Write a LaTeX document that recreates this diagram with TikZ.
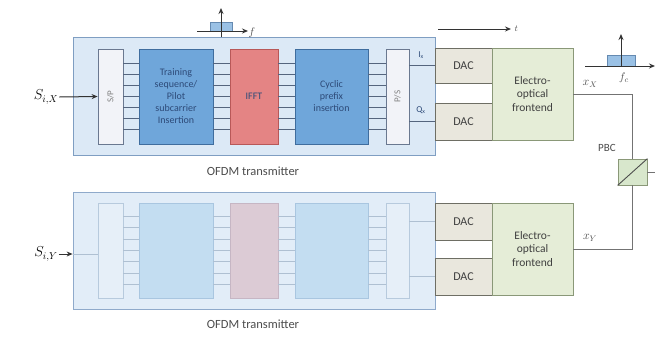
\documentclass[tikz,border=0pt]{standalone}
\usepackage{fontspec}
\setmainfont{Carlito}
\usetikzlibrary{arrows.meta}
\definecolor{outerfill}{HTML}{DCE9F6}
\definecolor{outerdraw}{HTML}{7F9EC2}
\definecolor{blufill}{HTML}{6FA6DA}
\definecolor{bludraw}{HTML}{3F6D9E}
\definecolor{redfill}{HTML}{E48484}
\definecolor{reddraw}{HTML}{B85858}
\definecolor{spfill}{HTML}{F2F3F8}
\definecolor{spdraw}{HTML}{6A7890}
\definecolor{dacfill}{HTML}{E9E7DD}
\definecolor{dacdraw}{HTML}{6E6E64}
\definecolor{fefill}{HTML}{E5EDD7}
\definecolor{fedraw}{HTML}{8A9878}
\definecolor{pbcfill}{HTML}{D8E7CC}
\definecolor{txtblue}{HTML}{2D4A78}
\definecolor{linec}{HTML}{55657E}
\definecolor{fouterfill}{HTML}{E2EDF8}
\definecolor{fouterdraw}{HTML}{8FAACB}
\definecolor{fblufill}{HTML}{C3DDF1}
\definecolor{fbludraw}{HTML}{A9C6E0}
\definecolor{fredfill}{HTML}{DCCBD5}
\definecolor{freddraw}{HTML}{C6B6C4}
\definecolor{fspfill}{HTML}{E6EFF8}
\definecolor{fspdraw}{HTML}{B7CADD}
\definecolor{flinec}{HTML}{AFC0D2}
\tikzset{
  box/.style={draw, line width=0.8pt, inner sep=1pt, align=center},
  outer/.style={box, fill=outerfill, draw=outerdraw},
  blk/.style={box, fill=blufill, draw=bludraw, text=txtblue, font=\fontsize{10}{12}\selectfont},
  redblk/.style={box, fill=redfill, draw=reddraw, text=txtblue, font=\fontsize{10}{12}\selectfont},
  spblk/.style={box, fill=spfill, draw=spdraw, text=gray, font=\fontsize{9}{10}\selectfont},
  fouter/.style={box, fill=fouterfill, draw=fouterdraw},
  fblk/.style={box, fill=fblufill, draw=fbludraw},
  fredblk/.style={box, fill=fredfill, draw=freddraw},
  fspblk/.style={box, fill=fspfill, draw=fspdraw},
  dac/.style={box, fill=dacfill, draw=dacdraw, text=black!75, font=\fontsize{12}{13}\selectfont},
  fe/.style={box, fill=fefill, draw=fedraw, text=black!75, font=\fontsize{11.5}{13.5}\selectfont},
  bus/.style={draw=linec, line width=0.9pt},
  fbus/.style={draw=flinec, line width=0.9pt},
  wire/.style={draw=black!55, line width=0.9pt},
  lbl/.style={text=black!70, font=\fontsize{12.5}{14}\selectfont},
  arr/.style={-{Stealth[length=6pt,width=5pt]}, line width=1pt, draw=black!80, fill=black!80}
}
\begin{document}
\begin{tikzpicture}[x=1pt,y=-1pt]
\useasboundingbox (0,0) rectangle (655,340);
% ---------- top transmitter ----------
\node[outer, minimum width=362pt, minimum height=118pt] (outA) at (254,96) {};
\node[spblk, minimum width=25pt, minimum height=95pt] (spA) at (110.5,96.5) {\rotatebox{90}{S/P}};
\node[blk, minimum width=74pt, minimum height=95pt] (trA) at (176,96.5) {Training\\sequence/\\Pilot\\subcarrier\\Insertion};
\node[redblk, minimum width=48pt, minimum height=95pt] (ifA) at (254,96.5) {IFFT};
\node[blk, minimum width=73pt, minimum height=95pt] (cpA) at (331.5,96.5) {Cyclic\\prefix\\insertion};
\node[spblk, minimum width=23pt, minimum height=95pt] (psA) at (397.5,96.5) {\rotatebox{90}{P/S}};
\foreach \d in {-33,-22,-11,0,11,22,33}{
  \draw[bus] ([yshift=\d pt]spA.east) -- ([yshift=\d pt]trA.west);
  \draw[bus] ([yshift=\d pt]trA.east) -- ([yshift=\d pt]ifA.west);
  \draw[bus] ([yshift=\d pt]ifA.east) -- ([yshift=\d pt]cpA.west);
  \draw[bus] ([yshift=\d pt]cpA.east) -- ([yshift=\d pt]psA.west);
}
\node[dac, minimum width=57pt, minimum height=35pt] (dacA1) at (463.5,65.5) {DAC};
\node[dac, minimum width=57pt, minimum height=37pt] (dacA2) at (463.5,121.5) {DAC};
\node[fe, minimum width=81pt, minimum height=92pt] (feA) at (532.5,94) {Electro-\\optical\\frontend};
\draw[bus] (psA.east |- dacA1.west) -- (dacA1.west);
\draw[bus] (psA.east |- dacA2.west) -- (dacA2.west);
\node[text=txtblue, font=\fontsize{9}{10}\selectfont] (ixA) at (421,55) {I\textsubscript{x}};
\node[text=txtblue, font=\fontsize{9}{10}\selectfont] (qxA) at (421,110) {Q\textsubscript{x}};
\node[font=\fontsize{14}{16}\selectfont, inner sep=1pt] (sixA) at (46,97) {$S_{i,X}$};
\draw[arr] (sixA.east) -- (spA.west);
\node[lbl] (tA) at (253,171) {OFDM transmitter};
% ---------- bottom transmitter ----------
\node[fouter, minimum width=362pt, minimum height=117pt] (outB) at (254,250.5) {};
\node[fspblk, minimum width=25pt, minimum height=95pt] (spB) at (110.5,250.5) {};
\node[fblk, minimum width=74pt, minimum height=95pt] (trB) at (176,250.5) {};
\node[fredblk, minimum width=48pt, minimum height=95pt] (ifB) at (254,250.5) {};
\node[fblk, minimum width=73pt, minimum height=95pt] (cpB) at (331.5,250.5) {};
\node[fspblk, minimum width=23pt, minimum height=95pt] (psB) at (397.5,250.5) {};
\foreach \d in {-34,-23,-11,0,11,23,34}{
  \draw[fbus] ([yshift=\d pt]spB.east) -- ([yshift=\d pt]trB.west);
  \draw[fbus] ([yshift=\d pt]trB.east) -- ([yshift=\d pt]ifB.west);
  \draw[fbus] ([yshift=\d pt]ifB.east) -- ([yshift=\d pt]cpB.west);
  \draw[fbus] ([yshift=\d pt]cpB.east) -- ([yshift=\d pt]psB.west);
}
\node[dac, minimum width=57pt, minimum height=37pt] (dacB1) at (463.5,221.5) {DAC};
\node[dac, minimum width=57pt, minimum height=37pt] (dacB2) at (463.5,276.5) {DAC};
\node[fe, minimum width=81pt, minimum height=92pt] (feB) at (532.5,249) {Electro-\\optical\\frontend};
\draw[fbus] (psB.east |- dacB1.west) -- (dacB1.west);
\draw[fbus] (psB.east |- dacB2.west) -- (dacB2.west);
\node[font=\fontsize{14}{16}\selectfont, inner sep=1pt] (sixB) at (46,254) {$S_{i,Y}$};
\draw[arr] (sixB.east) -- (outB.west |- sixB.east);
\draw[fbus, line width=0.6pt] (outB.west |- sixB.east) -- (spB.west |- sixB.east);
\node[lbl] (tB) at (253,324) {OFDM transmitter};
% ---------- PBC ----------
\node[box, fill=pbcfill, draw=fedraw, minimum width=29pt, minimum height=26pt] (pbc) at (632.5,172) {};
\draw[black!70, line width=0.9pt] (pbc.south west) -- (pbc.north east);
\node[lbl, font=\fontsize{11}{12}\selectfont] (pbcl) at (607,148) {PBC};
\draw[wire] (feA.east) -- (pbc.north |- feA.east) -- (pbc.north);
\draw[wire] (feB.east) -- (pbc.south |- feB.east) -- (pbc.south);
\coordinate (outp) at (655,172);
\draw[wire] (pbc.east) -- (outp);
\node[lbl, font=\fontsize{12}{12}\selectfont] (xX) at (590,84) {$x_X$};
\node[lbl, font=\fontsize{12}{12}\selectfont] (xY) at (590,238) {$x_Y$};
% ---------- spectra and time axis ----------
\coordinate (ta0) at (438,29);
\coordinate (ta1) at (511,29);
\draw[arr] (ta0) -- (ta1);
\node[lbl, font=\fontsize{9}{9}\selectfont, anchor=west] (tl) at (ta1) {$t$};
% left spectrum
\coordinate (la0) at (197,31);
\coordinate (la1) at (248,31);
\coordinate (lu0) at (221,37);
\coordinate (lu1) at (221,8);
\draw[fill=blufill!70, draw=bludraw!80, line width=0.6pt] (210,22) rectangle (232,31);
\draw[arr] (la0) -- (la1);
\draw[arr] (lu0) -- (lu1);
\node[lbl, font=\fontsize{11}{11}\selectfont] (fl) at (252,33) {$f$};
% right spectrum
\coordinate (ra0) at (585,66);
\coordinate (ra1) at (655,66);
\coordinate (ru0) at (621,66);
\coordinate (ru1) at (621,34);
\draw[fill=blufill!70, draw=bludraw!80, line width=0.6pt] (607,55) rectangle (635,66);
\draw[arr] (ra0) -- (ra1);
\draw[arr] (ru0) -- (ru1);
\node[lbl, font=\fontsize{11}{11}\selectfont] (fc) at (624,78) {$f_c$};
\end{tikzpicture}
\end{document}
